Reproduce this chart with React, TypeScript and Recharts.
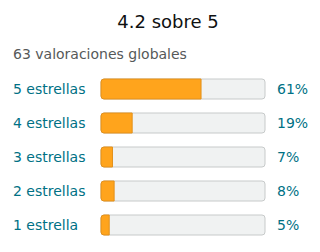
import { BarChart, Bar, XAxis, YAxis } from "recharts";

const labels = ["5 estrellas", "4 estrellas", "3 estrellas", "2 estrellas", "1 estrella"];
const percents = [61, 19, 7, 8, 5];
const title = "4.2 sobre 5";
const subtitle = "63 valoraciones globales";

const data = labels.map((name, i) => ({ name, value: percents[i], pct: `${percents[i]}%` }));

const font = "'DejaVu Sans', sans-serif";
const teal = "#007185";

function LeftTick(props: any) {
    const { y, payload } = props;
    return (
        <text x={13} y={y} dy={5} fill={teal} fontSize={14} fontFamily={font} textAnchor="start">
            {payload.value}
        </text>
    );
}

export default function App() {
    return (
        <div style={{ position: "absolute", left: 0, top: 0, width: 320, height: 252, background: "#fff" }}>
            <div style={{ position: "absolute", left: 8, top: 13, width: 320, textAlign: "center", fontFamily: font, fontSize: 18, lineHeight: "18px", color: "#0F1111" }}>
                {title}
            </div>
            <div style={{ position: "absolute", left: 13, top: 47, fontFamily: font, fontSize: 14, lineHeight: "14px", color: "#565959" }}>
                {subtitle}
            </div>
            <BarChart width={320} height={252} data={data} layout="vertical" margin={{ top: 72, right: 0, bottom: 10, left: 0 }}>
                <XAxis type="number" domain={[0, 100]} hide />
                <YAxis yAxisId="l" type="category" dataKey="name" width={101} axisLine={false} tickLine={false} tick={<LeftTick />} />
                <YAxis yAxisId="r" orientation="right" type="category" dataKey="pct" width={55} axisLine={false} tickLine={false} tickMargin={6}
                    tick={{ fill: teal, fontSize: 14, fontFamily: font, textAnchor: "start" }} />
                <Bar yAxisId="l" dataKey="value" barSize={20} fill="#FFA41C" stroke="#E3901A" radius={[3, 0, 0, 3]}
                    background={{ fill: "#F0F2F2", stroke: "#C7CACA", radius: 3 }} isAnimationActive={false} />
            </BarChart>
        </div>
    );
}
